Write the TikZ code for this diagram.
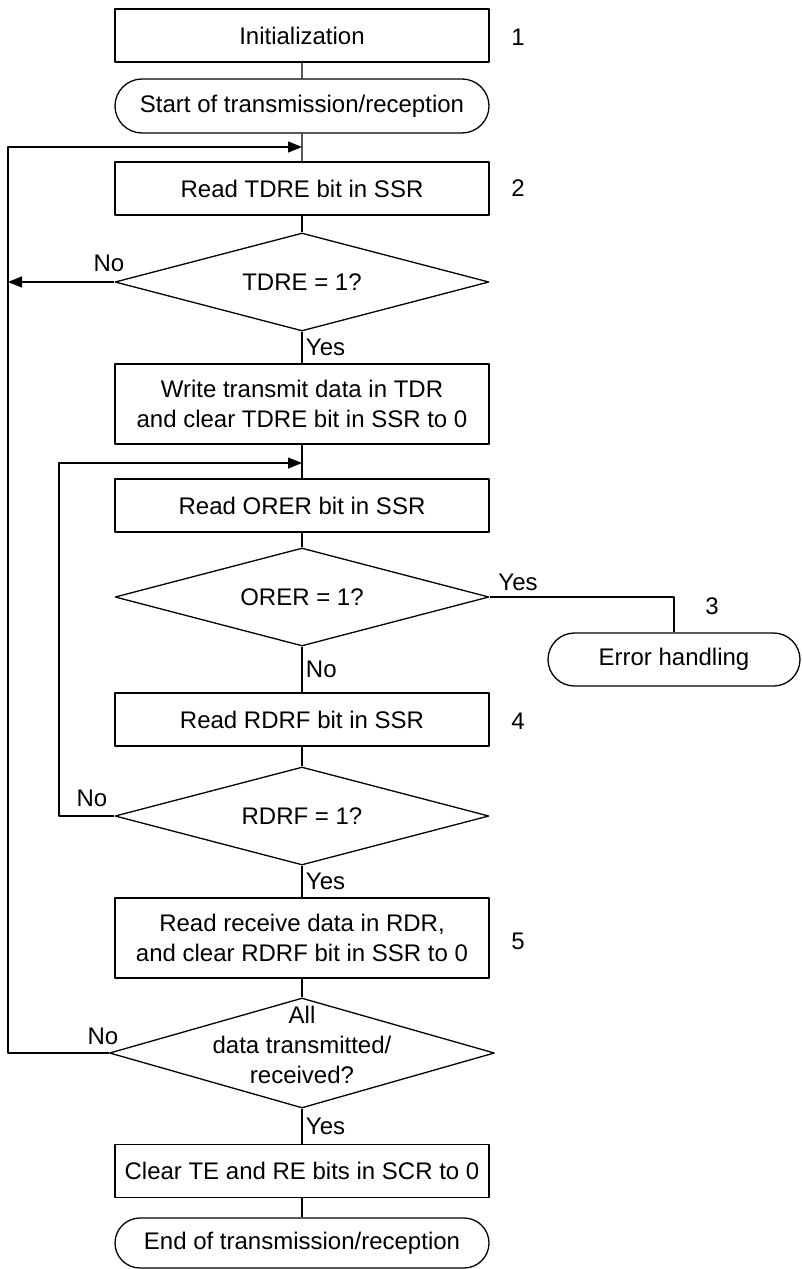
\documentclass[tikz,border=0pt]{standalone}
\usepackage{fontspec}
\setmainfont{Liberation Sans}
\usetikzlibrary{shapes.geometric,shapes.misc,arrows.meta}
\begin{document}
\begin{tikzpicture}[x=1pt, y=-1pt, font=\fontsize{24}{30}\selectfont, line width=1.3pt, line join=round, >={Triangle[length=14pt,width=11pt]},
	box/.style={draw, rectangle, minimum width=374pt, minimum height=53pt, inner sep=0pt, align=center},
	term/.style={draw, rounded rectangle, minimum width=374pt, minimum height=54pt, inner sep=0pt},
	dec/.style={draw, diamond, aspect=3.8, minimum width=374pt, minimum height=98pt, inner sep=0pt}]
\useasboundingbox (0,0) rectangle (801,1269);
\node[box]	(init)	at (302,35.5)	{Initialization};
\node[term]	(start)	at (302,106)	{Start of transmission/reception};
\node[box]	(rtdre)	at (302,188.5)	{Read TDRE bit in SSR};
\node[dec]	(tdre)	at (302,282)	{TDRE = 1?};
\node[box, minimum height=80pt]	(wtdr)	at (302,404)	{Write transmit data in TDR\\and clear TDRE bit in SSR to 0};
\node[box]	(rorer)	at (302,505.5)	{Read ORER bit in SSR};
\node[dec]	(orer)	at (302,597)	{ORER = 1?};
\node[term, minimum width=252pt, minimum height=53pt]	(err)	at (674,659.5)	{Error handling};
\node[box]	(rrdrf)	at (302,719.5)	{Read RDRF bit in SSR};
\node[dec]	(rdrf)	at (302,816)	{RDRF = 1?};
\node[box, minimum height=80pt]	(rrdr)	at (302,938)	{Read receive data in RDR,\\and clear RDRF bit in SSR to 0};
\node[dec, minimum width=385pt, minimum height=110pt, label={[align=center, yshift=8pt]center:All\\data transmitted/\\received?}]	(all)	at (302,1053)	{};
\node[box]	(clr)	at (302,1171)	{Clear TE and RE bits in SCR to 0};
\node[term, minimum height=50pt]	(fin)	at (302,1243)	{End of transmission/reception};
\node (n1) at (518,37) {1};
\node (n2) at (518,188) {2};
\node (n3) at (712,606) {3};
\node (n4) at (518,721) {4};
\node (n5) at (518,941) {5};
\coordinate (l1) at (8,147);	\coordinate (j1) at (302,147);
\coordinate (l2) at (59,463);	\coordinate (j2) at (302,463);
\draw (init) -- (start);
\draw (start) -- (rtdre);
\draw (rtdre) -- (tdre);
\draw (tdre) -- (wtdr) node[midway,right]{Yes};
\draw (wtdr) -- (rorer);
\draw (rorer) -- (orer);
\draw (orer) -- (rrdrf) node[midway,right]{No};
\draw (orer.east) -| (err.north);
\draw (rrdrf) -- (rdrf);
\draw (rdrf) -- (rrdr) node[midway,right]{Yes};
\draw (rrdr) -- (all);
\draw (all) -- (clr) node[midway,right]{Yes};
\draw (clr) -- (fin);
\draw[->] (tdre.west) -- (tdre.west -| l1);
\draw[->] (all.west) -| (l1) -- (j1);
\draw[->] (rdrf.west) -| (l2) -- (j2);
\node (no1) at (109,263) {No};
\node (yes2) at (518,582) {Yes};
\node (no3) at (92,798) {No};
\node (no4) at (103,1036) {No};
\end{tikzpicture}
\end{document}
